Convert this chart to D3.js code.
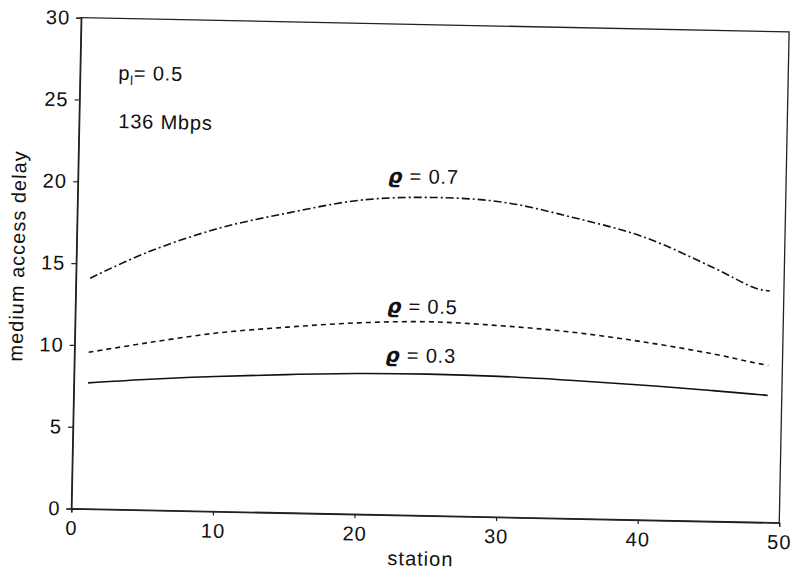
<!DOCTYPE html>
<html>
<head>
<meta charset="utf-8">
<script src="https://cdn.jsdelivr.net/npm/d3@7"></script>
<style>
  body { margin: 0; background: #fff; }
  text { font-family: "Liberation Sans", Arial, sans-serif; fill: #111; }
</style>
</head>
<body>
<div id="chart"></div>
<script>
// station numbers and medium access delay per load rho
const stations = [1, 5, 10, 15, 20, 25, 30, 35, 40, 45, 48, 49];
const delayRho03 = [7.7, 7.98, 8.25, 8.45, 8.6, 8.65, 8.6, 8.45, 8.25, 8.0, 7.83, 7.77];
const delayRho05 = [9.57, 10.2, 10.9, 11.35, 11.7, 11.85, 11.7, 11.4, 10.9, 10.25, 9.75, 9.6];
const delayRho07 = [14.1, 15.75, 17.3, 18.35, 19.2, 19.45, 19.25, 18.4, 17.3, 15.5, 14.3, 14.15];
const xTicks = [0, 10, 20, 30, 40, 50];
const yTicks = [0, 5, 10, 15, 20, 25, 30];

const series = [
  { label: '0.3', values: delayRho03, dash: null },
  { label: '0.5', values: delayRho05, dash: '5,4' },
  { label: '0.7', values: delayRho07, dash: '8,3,2,3' },
];

const W = 795, H = 576;
const margin = { top: 24.75, left: 76.25 };
const width = 708, height = 491;
const fs = '20px';

const svg = d3.select('#chart').append('svg')
  .attr('width', W)
  .attr('height', H);

// the scanned figure is slightly tilted, so rotate everything about the box centre
const root = svg.append('g')
  .attr('transform', `rotate(1.15, ${margin.left + width / 2}, ${margin.top + height / 2}) translate(${margin.left},${margin.top})`);

const x = d3.scaleLinear().domain([0, 50]).range([0, width]);
const y = d3.scaleLinear().domain([0, 30]).range([height, 0]);

root.append('rect')
  .attr('width', width)
  .attr('height', height)
  .attr('fill', 'none')
  .attr('stroke', '#222')
  .attr('stroke-width', 1.3);

const yAxis = root.append('g')
  .call(d3.axisLeft(y).tickValues(yTicks).tickSize(5).tickPadding(6));
const xAxis = root.append('g')
  .attr('transform', `translate(0,${height})`)
  .call(d3.axisBottom(x).tickValues(xTicks).tickSize(4).tickPadding(8));

[xAxis, yAxis].forEach((ax) => {
  ax.select('.domain').attr('stroke', '#222').attr('stroke-width', 1.3);
  ax.selectAll('.tick line').attr('stroke', '#222').attr('stroke-width', 1.2);
  ax.selectAll('.tick text')
    .style('font-family', '"Liberation Sans", Arial, sans-serif')
    .style('font-size', fs)
    .style('letter-spacing', '1px')
    .attr('fill', '#111');
});

const line = d3.line()
  .x((d, i) => x(stations[i]))
  .y((d) => y(d))
  .curve(d3.curveCatmullRom.alpha(0.5));

root.append('g')
  .selectAll('path')
  .data(series)
  .enter()
  .append('path')
  .attr('d', (d) => line(d.values))
  .attr('fill', 'none')
  .attr('stroke', '#111')
  .attr('stroke-width', 1.6)
  .attr('stroke-dasharray', (d) => d.dash);

// curve labels, anchored in data units
const labelPos = { '0.3': [21.96, 9.36], '0.5': [22.0, 12.35], '0.7': [21.9, 20.3] };
const lbl = root.append('g')
  .selectAll('text')
  .data(series)
  .enter()
  .append('text')
  .attr('x', (d) => x(labelPos[d.label][0]))
  .attr('y', (d) => y(labelPos[d.label][1]))
  .style('font-size', fs)
  .style('letter-spacing', '0.8px');
lbl.append('tspan')
  .style('font-style', 'italic')
  .style('font-weight', 'bold')
  .style('font-family', '"DejaVu Sans", sans-serif')
  .text('ϱ');
lbl.append('tspan').text((d) => ` = ${d.label}`);

const pl = root.append('text')
  .attr('x', x(2.7))
  .attr('y', y(26.26))
  .style('font-size', fs)
  .style('letter-spacing', '0.8px');
pl.append('tspan').text('p');
pl.append('tspan').attr('dy', 5).style('font-size', '13px').text('l');
pl.append('tspan').attr('dy', -5).text('= 0.5');

root.append('text')
  .attr('x', x(2.77))
  .attr('y', y(23.3))
  .style('font-size', fs)
  .style('letter-spacing', '0.8px')
  .text('136 Mbps');

root.append('text')
  .attr('x', width / 2 - 4)
  .attr('y', height + 50)
  .attr('text-anchor', 'middle')
  .style('font-size', fs)
  .style('letter-spacing', '1px')
  .text('station');

root.append('text')
  .attr('transform', `translate(-52,${height / 2 - 6}) rotate(-90)`)
  .attr('text-anchor', 'middle')
  .style('font-size', fs)
  .style('letter-spacing', '1px')
  .text('medium access delay');
</script>
</body>
</html>
